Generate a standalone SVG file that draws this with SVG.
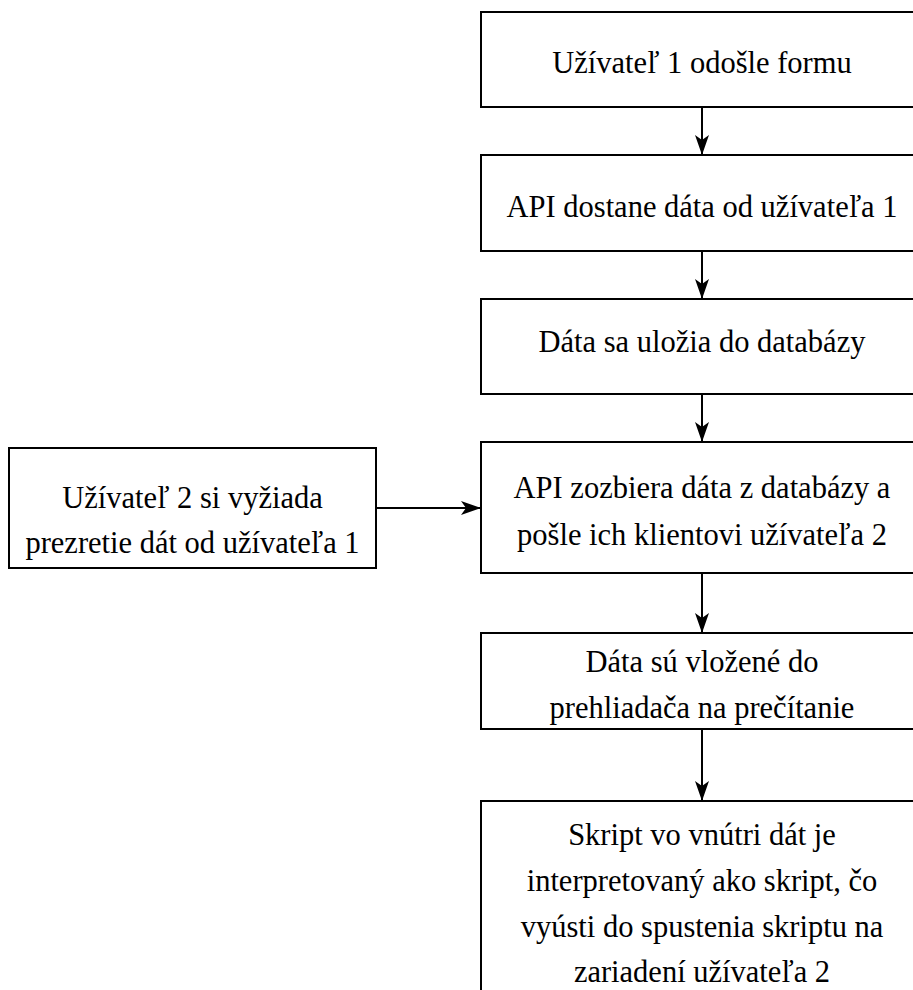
<svg xmlns="http://www.w3.org/2000/svg" width="913" height="990" viewBox="0 0 913 990">
<style>
.box{fill:#fff;stroke:#000;stroke-width:2}
.t{font-family:"Liberation Serif","Times New Roman",serif;font-size:30.5px;fill:#000;text-anchor:middle}
.c{fill:none;stroke:#000;stroke-width:2}
</style>
<defs>
<marker id="ah" markerUnits="userSpaceOnUse" viewBox="0 0 20 14" refX="20" refY="7" markerWidth="20" markerHeight="14" orient="auto">
<path d="M0,0 L20,7 L0,14 L5,7 Z" fill="#000"/>
</marker>
</defs>
<rect width="913" height="990" fill="#fff"/>
<g id="connectors">
<line class="c" x1="702" y1="107" x2="702" y2="155" marker-end="url(#ah)"/>
<line class="c" x1="702" y1="251" x2="702" y2="299" marker-end="url(#ah)"/>
<line class="c" x1="702" y1="394" x2="702" y2="442" marker-end="url(#ah)"/>
<line class="c" x1="702" y1="573" x2="702" y2="633" marker-end="url(#ah)"/>
<line class="c" x1="702" y1="729" x2="702" y2="801" marker-end="url(#ah)"/>
<line class="c" x1="376" y1="508" x2="481" y2="508" marker-end="url(#ah)"/>
</g>
<g id="n1">
<rect class="box" x="481" y="12" width="442" height="95"/>
<text class="t" x="702" y="73">Užívateľ 1 odošle formu</text>
</g>
<g id="n2">
<rect class="box" x="481" y="155" width="442" height="96"/>
<text class="t" x="702" y="217">API dostane dáta od užívateľa 1</text>
</g>
<g id="n3">
<rect class="box" x="481" y="299" width="442" height="95"/>
<text class="t" x="702" y="352">Dáta sa uložia do databázy</text>
</g>
<g id="n4">
<rect class="box" x="481" y="442" width="442" height="131"/>
<text class="t" x="702" y="498">API zozbiera dáta z databázy a</text>
<text class="t" x="702" y="545">pošle ich klientovi užívateľa 2</text>
</g>
<g id="n5">
<rect class="box" x="481" y="633" width="442" height="96"/>
<text class="t" x="702" y="672">Dáta sú vložené do</text>
<text class="t" x="702" y="718">prehliadača na prečítanie</text>
</g>
<g id="n6">
<rect class="box" x="481" y="801" width="442" height="210"/>
<text class="t" x="702" y="845">Skript vo vnútri dát je</text>
<text class="t" x="702" y="891">interpretovaný ako skript, čo</text>
<text class="t" x="702" y="937">vyústi do spustenia skriptu na</text>
<text class="t" x="702" y="982">zariadení užívateľa 2</text>
</g>
<g id="n0">
<rect class="box" x="9" y="448" width="367" height="120"/>
<text class="t" x="192.5" y="508">Užívateľ 2 si vyžiada</text>
<text class="t" x="192.5" y="553">prezretie dát od užívateľa 1</text>
</g>
</svg>
